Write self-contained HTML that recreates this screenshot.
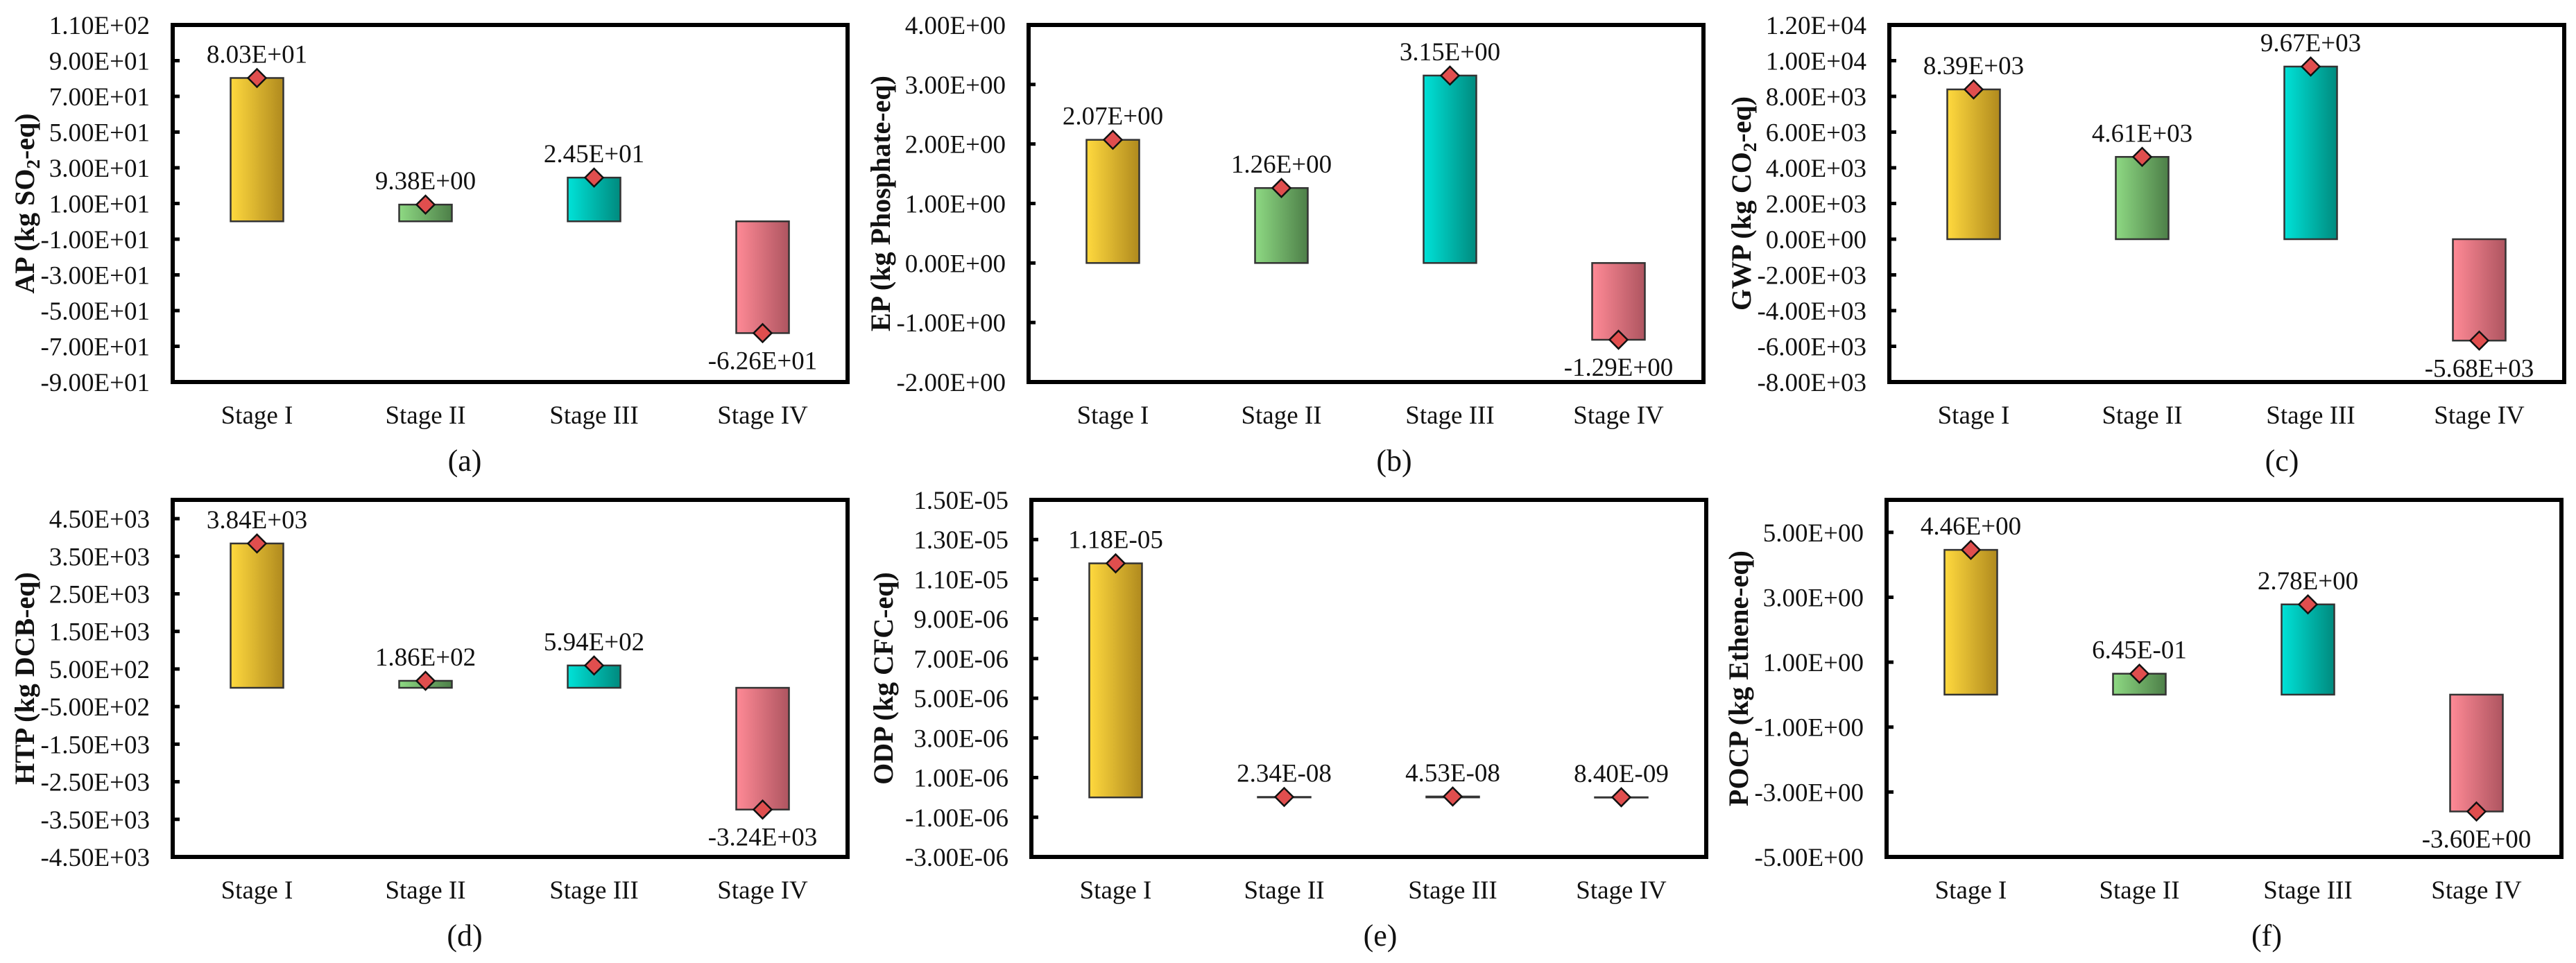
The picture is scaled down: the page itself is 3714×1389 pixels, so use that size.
<!DOCTYPE html>
<html><head><meta charset="utf-8"><style>
html,body{margin:0;padding:0;background:#fff;}
svg{display:block;font-family:"Liberation Serif",serif;}
</style></head><body>
<svg id="chart" width="3714" height="1389" viewBox="0 0 3714 1389" xmlns="http://www.w3.org/2000/svg">
<defs>
<linearGradient id="gY" x1="0" x2="1"><stop offset="0" stop-color="#FFD93E"/><stop offset="1" stop-color="#B08A1E"/></linearGradient>
<linearGradient id="gG" x1="0" x2="1"><stop offset="0" stop-color="#8ED983"/><stop offset="1" stop-color="#4D7F48"/></linearGradient>
<linearGradient id="gT" x1="0" x2="1"><stop offset="0" stop-color="#00E2D8"/><stop offset="1" stop-color="#008A7E"/></linearGradient>
<linearGradient id="gP" x1="0" x2="1"><stop offset="0" stop-color="#FF8A96"/><stop offset="1" stop-color="#AE5560"/></linearGradient>
</defs>
</svg>
<script>
const categories = ["Stage I","Stage II","Stage III","Stage IV"];
const apValues = [80.3, 9.38, 24.5, -62.6];
const epValues = [2.07, 1.26, 3.15, -1.29];
const gwpValues = [8390, 4610, 9670, -5680];
const htpValues = [3840, 186, 594, -3240];
const odpValues = [1.18e-5, 2.34e-8, 4.53e-8, 8.40e-9];
const pocpValues = [4.46, 0.645, 2.78, -3.60];
const apLabels = ["8.03E+01","9.38E+00","2.45E+01","-6.26E+01"];
const epLabels = ["2.07E+00","1.26E+00","3.15E+00","-1.29E+00"];
const gwpLabels = ["8.39E+03","4.61E+03","9.67E+03","-5.68E+03"];
const htpLabels = ["3.84E+03","1.86E+02","5.94E+02","-3.24E+03"];
const odpLabels = ["1.18E-05","2.34E-08","4.53E-08","8.40E-09"];
const pocpLabels = ["4.46E+00","6.45E-01","2.78E+00","-3.60E+00"];
const apTicks = [110,90,70,50,30,10,-10,-30,-50,-70,-90];
const apTickLabels = ["1.10E+02","9.00E+01","7.00E+01","5.00E+01","3.00E+01","1.00E+01","-1.00E+01","-3.00E+01","-5.00E+01","-7.00E+01","-9.00E+01"];
const epTicks = [4,3,2,1,0,-1,-2];
const epTickLabels = ["4.00E+00","3.00E+00","2.00E+00","1.00E+00","0.00E+00","-1.00E+00","-2.00E+00"];
const gwpTicks = [12000,10000,8000,6000,4000,2000,0,-2000,-4000,-6000,-8000];
const gwpTickLabels = ["1.20E+04","1.00E+04","8.00E+03","6.00E+03","4.00E+03","2.00E+03","0.00E+00","-2.00E+03","-4.00E+03","-6.00E+03","-8.00E+03"];
const htpTicks = [4500,3500,2500,1500,500,-500,-1500,-2500,-3500,-4500];
const htpTickLabels = ["4.50E+03","3.50E+03","2.50E+03","1.50E+03","5.00E+02","-5.00E+02","-1.50E+03","-2.50E+03","-3.50E+03","-4.50E+03"];
const odpTicks = [1.5e-5,1.3e-5,1.1e-5,9e-6,7e-6,5e-6,3e-6,1e-6,-1e-6,-3e-6];
const odpTickLabels = ["1.50E-05","1.30E-05","1.10E-05","9.00E-06","7.00E-06","5.00E-06","3.00E-06","1.00E-06","-1.00E-06","-3.00E-06"];
const pocpTicks = [5,3,1,-1,-3,-5];
const pocpTickLabels = ["5.00E+00","3.00E+00","1.00E+00","-1.00E+00","-3.00E+00","-5.00E+00"];

const NS="http://www.w3.org/2000/svg";
const svg=document.getElementById('chart');
const fills=["url(#gY)","url(#gG)","url(#gT)","url(#gP)"];
function mk(tag,attrs,parent){const e=document.createElementNS(NS,tag);for(const k in attrs)e.setAttribute(k,attrs[k]);(parent||svg).appendChild(e);return e;}

const panels=[
 {id:"ap",left:249,top:36,min:-90,max:110,vals:apValues,labs:apLabels,ticks:apTicks,tl:apTickLabels,title:["AP (kg SO","2","-eq)"],tag:"(a)",tagX:670},
 {id:"ep",left:1483,top:36,min:-2,max:4,vals:epValues,labs:epLabels,ticks:epTicks,tl:epTickLabels,title:["EP (kg Phosphate-eq)"],tag:"(b)",tagX:2010},
 {id:"gwp",left:2724,top:36,min:-8000,max:12000,vals:gwpValues,labs:gwpLabels,ticks:gwpTicks,tl:gwpTickLabels,title:["GWP (kg CO","2","-eq)"],tag:"(c)",tagX:3290},
 {id:"htp",left:249,top:721,min:-4500,max:5000,vals:htpValues,labs:htpLabels,ticks:htpTicks,tl:htpTickLabels,title:["HTP (kg DCB-eq)"],tag:"(d)",tagX:670},
 {id:"odp",left:1487,top:721,min:-3e-6,max:1.5e-5,vals:odpValues,labs:odpLabels,ticks:odpTicks,tl:odpTickLabels,title:["ODP (kg CFC-eq)"],tag:"(e)",tagX:1990},
 {id:"pocp",left:2720,top:721,min:-5,max:6,vals:pocpValues,labs:pocpLabels,ticks:pocpTicks,tl:pocpTickLabels,title:["POCP (kg Ethene-eq)"],tag:"(f)",tagX:3268}
];
const W=973,H=515,BW=76,STEP=243;

panels.forEach(p=>{
  const g=mk('g',{});
  
  
  const y=v=>p.top+H-(v-p.min)/(p.max-p.min)*H;
  const x=i=>p.left+121.5+i*STEP;
  // ticks and labels
  p.ticks.forEach((t,i)=>{
    const ty=y(t);
    const tk=mk('line',{x1:p.left,x2:p.left+10,y1:ty,y2:ty,stroke:'#000','stroke-width':5},g);
    
    
    const tx=mk('text',{x:p.left-33,y:ty+13,'text-anchor':'end','font-size':37,fill:'#111'},g);
    tx.textContent=p.tl[i];
    
    
  });
  // bars
  const y0=y(0);
  p.vals.forEach((v,i)=>{
    const yv=y(v);
    const top=Math.min(yv,y0),h=Math.abs(y0-yv);
    const r=mk('rect',{x:x(i)-BW/2,y:top,width:BW,height:Math.max(h,0.5),fill:fills[i],stroke:'#333','stroke-width':2.5},g);
    
    
    const d=13;
    const m=mk('polygon',{points:`${x(i)},${yv-d} ${x(i)+d},${yv} ${x(i)},${yv+d} ${x(i)-d},${yv}`,fill:'#E04E4E',stroke:'#111','stroke-width':2.5},g);
    
    
    const ly = v>=0 ? yv-22 : yv+52;
    const lt=mk('text',{x:x(i),y:ly,'text-anchor':'middle','font-size':37,fill:'#111'},g);
    lt.textContent=p.labs[i];
    
    
    const ct=mk('text',{x:x(i),y:p.top+H+60,'text-anchor':'middle','font-size':37,fill:'#111'},g);
    ct.textContent=categories[i];
    
    
  });
  // frame
  const fr=mk('rect',{x:p.left,y:p.top,width:W,height:H,fill:'none',stroke:'#000','stroke-width':6},g);
  
  
  // y title
  const tx=p.left-213, ty=p.top+H/2;
  const t=mk('text',{x:0,y:0,transform:`translate(${tx+13},${ty}) rotate(-90)`,'text-anchor':'middle','font-size':40,'font-weight':'bold',fill:'#111'},g);
  
  
  p.title.forEach((s,k)=>{
    const sp=mk('tspan',{},t);
    if(p.title.length===3&&k===1){sp.setAttribute('font-size','27');sp.setAttribute('dy','8');}
    if(p.title.length===3&&k===2){sp.setAttribute('dy','-8');}
    sp.textContent=s;
  });
  const tg=mk('text',{x:p.tagX,y:p.top+H+128,'text-anchor':'middle','font-size':44,fill:'#111'},g);
  tg.textContent=p.tag;
  
  
});
</script>
</body></html>
